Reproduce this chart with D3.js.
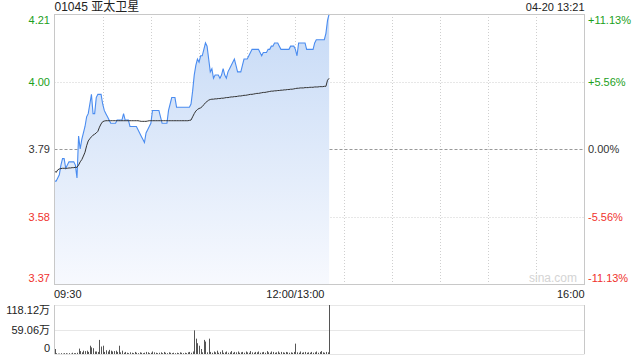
<!DOCTYPE html>
<html><head><meta charset="utf-8">
<script src="https://cdn.jsdelivr.net/npm/d3@7"></script>
<style>body{margin:0;background:#fff}svg{display:block;font-family:"Liberation Sans",Arial,"Noto Sans CJK SC",sans-serif}</style>
</head><body><svg id="c" width="640" height="360"></svg>
<script>
const stockTitle = "01045 亚太卫星";
const stampText = "04-20 13:21";
const priceTicks = [4.21, 4.00, 3.79, 3.58, 3.37];
const pctTicks = ["+11.13%", "+5.56%", "0.00%", "-5.56%", "-11.13%"];
const tickColors = ["up", "up", "flat", "down", "down"];
const timeTickMinutes = [0, 150, 330];
const timeTickLabels = ["09:30", "12:00/13:00", "16:00"];
const volTicks = [118.12, 59.06, 0];
const volTickLabels = ["118.12万", "59.06万", "0"];
const totalMinutes = 330;

const prices = [
3.69,3.69,3.70,3.71,3.74,3.76,3.76,3.73,3.74,3.75,
3.75,3.75,3.75,3.74,3.70,3.83,3.79,3.82,3.84,3.86,
3.89,3.90,3.93,3.96,3.90,3.90,3.95,3.96,3.96,3.96,
3.93,3.91,3.90,3.89,3.88,3.87,3.87,3.87,3.87,3.88,
3.88,3.88,3.88,3.90,3.88,3.88,3.88,3.86,3.86,3.86,
3.86,3.86,3.85,3.84,3.83,3.82,3.81,3.84,3.85,3.86,
3.87,3.91,3.91,3.91,3.91,3.91,3.89,3.87,3.87,3.87,
3.87,3.91,3.93,3.95,3.95,3.95,3.92,3.92,3.92,3.92,
3.92,3.92,3.92,3.92,3.92,3.93,3.97,4.02,4.05,4.07,
4.06,4.08,4.08,4.10,4.12,4.11,4.07,4.03,4.04,4.01,
4.02,4.02,4.02,4.01,4.02,4.04,4.02,4.01,4.03,4.04,
4.05,4.06,4.07,4.05,4.03,4.03,4.03,4.05,4.07,4.07,
4.07,4.08,4.09,4.10,4.10,4.10,4.10,4.10,4.09,4.08,
4.09,4.09,4.09,4.10,4.10,4.11,4.11,4.12,4.12,4.12,
4.11,4.10,4.10,4.10,4.10,4.10,4.10,4.11,4.11,4.11,
4.10,4.08,4.12,4.12,4.12,4.12,4.12,4.10,4.10,4.10,
4.10,4.10,4.12,4.13,4.13,4.13,4.13,4.13,4.13,4.15,
4.19,4.21];

const avgPrices = [
3.722,3.717,3.725,3.728,3.729,3.730,3.730,3.730,3.730,3.731,
3.731,3.732,3.732,3.733,3.733,3.740,3.750,3.757,3.768,3.780,
3.800,3.815,3.822,3.828,3.833,3.836,3.840,3.845,3.858,3.868,
3.875,3.877,3.878,3.878,3.878,3.878,3.878,3.878,3.878,3.878,
3.878,3.878,3.878,3.878,3.878,3.878,3.878,3.878,3.878,3.878,
3.878,3.878,3.878,3.877,3.876,3.876,3.876,3.876,3.877,3.878,
3.878,3.878,3.878,3.878,3.878,3.878,3.878,3.878,3.878,3.878,
3.878,3.878,3.878,3.878,3.878,3.878,3.878,3.878,3.878,3.878,
3.878,3.878,3.878,3.878,3.879,3.880,3.890,3.900,3.908,3.913,
3.916,3.918,3.922,3.928,3.934,3.938,3.942,3.944,3.945,3.945,
3.946,3.946,3.947,3.947,3.948,3.948,3.949,3.950,3.950,3.951,
3.952,3.952,3.953,3.953,3.954,3.955,3.955,3.956,3.957,3.957,
3.958,3.959,3.960,3.960,3.961,3.962,3.963,3.963,3.964,3.965,
3.966,3.966,3.967,3.968,3.969,3.970,3.970,3.971,3.971,3.972,
3.972,3.973,3.973,3.974,3.974,3.975,3.975,3.976,3.976,3.977,
3.978,3.979,3.979,3.980,3.980,3.980,3.981,3.981,3.981,3.982,
3.982,3.982,3.983,3.983,3.983,3.984,3.984,3.984,3.985,3.985,
4.004,4.010];

const volumes = [
12,2,1,1,2,1,2,2,1,2,
1,3,2,2,3,13,7,4,8,7,
8,5,20,16,14,6,6,5,34,18,
20,5,9,6,10,8,6,7,8,5,
20,4,8,3,5,3,2,4,3,2,
5,3,2,4,3,2,3,5,4,2,
3,6,4,3,2,3,4,2,5,3,
2,4,3,2,3,2,3,2,4,3,
2,3,2,4,5,3,6,57,37,26,
20,12,4,34,30,4,37,5,3,6,
4,8,3,5,9,3,4,6,3,4,
7,3,5,4,6,3,4,5,3,6,
4,3,7,4,3,5,4,6,3,4,
5,3,7,4,3,6,5,3,4,6,
3,5,4,3,5,4,3,4,3,5,
25,4,3,6,3,4,5,3,4,3,
5,3,4,6,3,5,7,4,3,5,
4,118.12];

const C = {up:"#1ba01b", down:"#f0322d", flat:"#333", grid:"#cfcfcf", border:"#c8c8c8", line:"#4a8cf0", avg:"#333", vol:"#555"};
const fc = k => C[k];

const svg = d3.select("#c");
const L = 54.5, R = 584.5, T = 14, B = 284;
const VT = 305, VB = 354;

const x = d3.scaleLinear().domain([0, totalMinutes]).range([L, R]);
const y = d3.scaleLinear().domain([d3.min(priceTicks), d3.max(priceTicks)]).range([B, T]);
const vy = d3.scaleLinear().domain([0, d3.max(volTicks)]).range([VB, VT]);

// gradient
const defs = svg.append("defs");
const g = defs.append("linearGradient").attr("id","ag").attr("gradientUnits","userSpaceOnUse")
  .attr("x1",0).attr("y1",T).attr("x2",0).attr("y2",B);
g.append("stop").attr("offset","0").attr("stop-color","#c6daf6");
g.append("stop").attr("offset","1").attr("stop-color","#f7f9fe");

// header
svg.append("text").attr("x",L).attr("y",11).attr("font-size",12).attr("fill","#222").text(stockTitle);
svg.append("text").attr("x",R).attr("y",11).attr("text-anchor","end").attr("font-size",11).attr("fill","#222").text(stampText);

// vertical grid
const vmins = d3.range(30, totalMinutes, 30);
svg.append("g").selectAll("line").data(vmins).join("line")
  .attr("x1", d => Math.round(x(d)) + 0.5).attr("x2", d => Math.round(x(d)) + 0.5)
  .attr("y1", T).attr("y2", B)
  .attr("stroke", C.grid).attr("stroke-dasharray","1,2");

// horizontal grid
svg.append("g").selectAll("line").data(priceTicks.slice(1, -1)).join("line")
  .attr("x1", L).attr("x2", R)
  .attr("y1", d => Math.round(y(d)) + 0.5).attr("y2", d => Math.round(y(d)) + 0.5)
  .attr("stroke", (d,i) => i === 1 ? "#999" : C.grid)
  .attr("stroke-dasharray", (d,i) => i === 1 ? "3,2" : "1,2");

// watermark
svg.append("text").attr("x",577).attr("y",282).attr("text-anchor","end").attr("font-size",12)
  .attr("fill","#d4d4d4").text("sina.com");

// area & lines
const pts = prices.map((p,i) => [i,p]);
svg.append("path").datum(pts)
  .attr("d", d3.area().x(d => x(d[0])).y0(B).y1(d => y(d[1])))
  .attr("fill","url(#ag)");
svg.append("path").datum(pts)
  .attr("d", d3.line().x(d => x(d[0])).y(d => y(d[1])))
  .attr("fill","none").attr("stroke",C.line).attr("stroke-width",1.1);
svg.append("path").datum(avgPrices.map((p,i) => [i,p]))
  .attr("d", d3.line().x(d => x(d[0])).y(d => y(d[1])))
  .attr("fill","none").attr("stroke",C.avg).attr("stroke-width",1);

// border
svg.append("rect").attr("x",L).attr("y",T+0.5).attr("width",R-L).attr("height",B-T)
  .attr("fill","none").attr("stroke",C.border);

// price labels
svg.append("g").selectAll("text").data(priceTicks).join("text")
  .attr("x", 50).attr("text-anchor","end").attr("font-size",11)
  .attr("y", (d,i) => y(d) + (i === 0 ? 6 : i === priceTicks.length-1 ? -6 : 0) + 4)
  .attr("fill", (d,i) => fc(tickColors[i]))
  .text(d => d.toFixed(2));
svg.append("g").selectAll("text").data(pctTicks).join("text")
  .attr("x", 588).attr("font-size",11)
  .attr("y", (d,i) => y(priceTicks[i]) + (i === 0 ? 6 : i === pctTicks.length-1 ? -6 : 0) + 4)
  .attr("fill", (d,i) => fc(tickColors[i]))
  .text(d => d);

// time labels
svg.append("g").selectAll("text").data(timeTickLabels).join("text")
  .attr("x", (d,i) => x(timeTickMinutes[i]) + (i === 0 ? -0.5 : 0))
  .attr("text-anchor", (d,i) => i === 0 ? "start" : i === timeTickLabels.length-1 ? "end" : "middle")
  .attr("y", 298).attr("font-size",11).attr("fill","#222").text(d => d);

// volume panel
svg.append("g").selectAll("line").data(volTicks.slice(0,2)).join("line")
  .attr("x1", L).attr("x2", R)
  .attr("y1", d => Math.round(vy(d)) + 0.5).attr("y2", d => Math.round(vy(d)) + 0.5)
  .attr("stroke", C.grid).attr("stroke-dasharray","1,1");
svg.append("line").attr("x1",L).attr("x2",L).attr("y1",VT).attr("y2",VB).attr("stroke",C.border);
svg.append("line").attr("x1",R).attr("x2",R).attr("y1",VT).attr("y2",VB).attr("stroke",C.border);
svg.append("line").attr("x1",L).attr("x2",R).attr("y1",VB+0.5).attr("y2",VB+0.5).attr("stroke","#e4e4e4");
svg.append("g").selectAll("line").data(volumes).join("line")
  .attr("x1", (d,i) => Math.round(x(i)) + 0.5).attr("x2", (d,i) => Math.round(x(i)) + 0.5)
  .attr("y1", VB).attr("y2", d => vy(d))
  .attr("stroke", C.vol).attr("stroke-width",1);
svg.append("g").selectAll("text").data(volTickLabels).join("text")
  .attr("x", 50).attr("text-anchor","end").attr("font-size",11).attr("fill","#222")
  .attr("y", (d,i) => vy(volTicks[i]) + (i === 0 ? 5 : i === volTickLabels.length-1 ? -6 : 0) + 4)
  .text(d => d);
</script></body></html>
